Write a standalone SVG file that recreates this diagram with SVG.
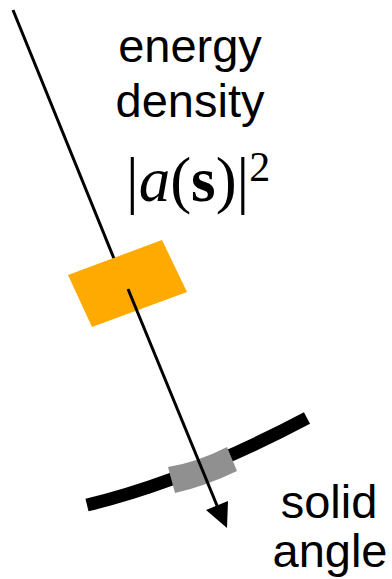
<svg xmlns="http://www.w3.org/2000/svg" width="392" height="579" viewBox="0 0 392 579">
<style>
.lbl{font-family:"Liberation Sans",Arial,sans-serif;font-size:47px;fill:#000;text-anchor:middle}
.math{font-family:"Liberation Serif","Times New Roman",serif;font-size:63px;fill:#000}
.ray{stroke:#000;stroke-width:3;fill:none}
</style>
<rect width="392" height="579" fill="#fff"/>
<g id="connectors">
<line id="ray-in" class="ray" x1="13" y1="10" x2="117" y2="266"/>
</g>
<g id="volume">
<polygon points="68,275 162,240 187,292 92,327" fill="#FFAA00"/>
</g>
<g id="sphere">
<path d="M87,505 Q190,480 307,418" stroke="#000" stroke-width="13" fill="none"/>
<path d="M168,467 Q198,462 227,447 L237,471 Q206,486 175,493 Z" fill="#909090"/>
</g>
<g id="connectors-out">
<line class="ray" x1="128" y1="289" x2="218" y2="508"/>
<polygon points="206,510 228,501 227,528" fill="#000"/>
</g>
<g id="labels">
<text class="math" x="126" y="201">|<tspan font-style="italic">a</tspan>(<tspan font-weight="bold">s</tspan>)|<tspan font-size="42" dy="-20">2</tspan></text>
<text class="lbl" x="190" y="62">energy</text>
<text class="lbl" x="190" y="117">density</text>
<text class="lbl" x="329" y="518">solid</text>
<text class="lbl" x="330" y="567">angle</text>
</g>
</svg>
